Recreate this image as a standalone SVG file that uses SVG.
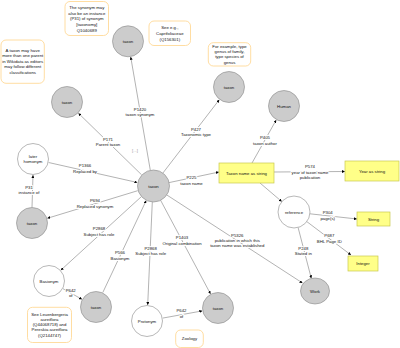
<svg xmlns="http://www.w3.org/2000/svg" width="400" height="348" viewBox="0 0 400 348">
<style>
text{font-family:"Liberation Sans",Arial,sans-serif;font-size:4.3px;fill:#111;text-anchor:middle}
.lbl{paint-order:stroke;stroke:#fff;stroke-width:2px;stroke-linejoin:round}
.g{fill:#cccccc;stroke:#888;stroke-width:0.6}
.w{fill:#fff;stroke:#888;stroke-width:0.6}
.y{fill:#ffff88;stroke:#c8c850;stroke-width:0.7}
.n{fill:#fff;stroke:#ffd48a;stroke-width:0.8}
.e{stroke:#666;stroke-width:0.5;fill:none;marker-end:url(#ah)}
.gr{fill:#999}
</style>
<defs>
<marker id="ah" viewBox="0 0 10 10" refX="10" refY="5" markerWidth="3" markerHeight="3" markerUnits="userSpaceOnUse" orient="auto">
<path d="M0,0 L10,5 L0,10 z" fill="#000"/>
</marker>
</defs>
<rect width="400" height="348" fill="#fff"/>
<g id="connectors">
<line class="e" x1="141.6" y1="174.8" x2="78.4" y2="113.2"/>
<line class="e" x1="150.3" y1="170.2" x2="130.7" y2="56.8"/>
<line class="e" x1="162.7" y1="173.3" x2="219.3" y2="99.7"/>
<line class="e" x1="48.6" y1="162.5" x2="137.4" y2="182.5"/>
<line class="e" x1="32" y1="207.5" x2="33" y2="175"/>
<line class="e" x1="137.7" y1="190.7" x2="47.3" y2="218.3"/>
<line class="e" x1="141.2" y1="196.8" x2="60.8" y2="270.2"/>
<line class="e" x1="102.8" y1="292.5" x2="146.2" y2="200.5"/>
<line class="e" x1="63" y1="288.7" x2="82" y2="299.3"/>
<line class="e" x1="152.3" y1="202" x2="147.7" y2="305"/>
<line class="e" x1="160.5" y1="200.1" x2="210.5" y2="293.9"/>
<line class="e" x1="162.7" y1="318.1" x2="202.3" y2="310.9"/>
<line class="e" x1="168.6" y1="182.7" x2="219" y2="172"/>
<line class="e" x1="166.4" y1="194.7" x2="302.5" y2="283"/>
<line class="e" x1="252" y1="163" x2="276.2" y2="120"/>
<line class="e" x1="274" y1="172" x2="345" y2="171.5"/>
<line class="e" x1="260" y1="183" x2="281.8" y2="201.6"/>
<line class="e" x1="309.9" y1="213.8" x2="357" y2="219"/>
<line class="e" x1="306.8" y1="221.6" x2="351" y2="255"/>
<line class="e" x1="298.1" y1="227.5" x2="311.3" y2="278.4"/>
<g class="labels">
<text class="lbl" x="108" y="141">P171<tspan x="108" y="146.3">Parent taxon</tspan></text>
<text class="lbl" x="140" y="110.5">P1420<tspan x="140" y="116.3">taxon synonym</tspan></text>
<text class="lbl" x="196" y="130.5">P427<tspan x="196" y="135.8">Taxonomic type</tspan></text>
<text class="lbl" x="85" y="167.2">P1366<tspan x="85" y="172.5">Replaced by</tspan></text>
<text class="lbl" x="29" y="189.2">P31<tspan x="29" y="194.4">instance of</tspan></text>
<text class="lbl" x="95" y="202.2">P694<tspan x="95" y="207.8">Replaced synonym</tspan></text>
<text class="lbl" x="99" y="230.2">P2868<tspan x="99" y="235.5">Subject has role</tspan></text>
<text class="lbl" x="120" y="253.8">P566<tspan x="120" y="259.5">Basionym</tspan></text>
<text class="lbl" x="70.7" y="291.8">P642<tspan x="70.7" y="297.3">of</tspan></text>
<text class="lbl" x="150.7" y="249.8">P2868<tspan x="150.7" y="255">Subject has role</tspan></text>
<text class="lbl" x="182" y="238.8">P1403<tspan x="182" y="244.8">Original combination</tspan></text>
<text class="lbl" x="181.5" y="312.3">P642<tspan x="181.5" y="317.8">of</tspan></text>
<text class="lbl" x="191.5" y="179.2">P225<tspan x="191.5" y="184.8">taxon name</tspan></text>
<text class="lbl" x="237.3" y="236.5">P5326<tspan x="237.3" y="241.5">publication in which this</tspan><tspan x="237.3" y="246.5">taxon name was established</tspan></text>
<text class="lbl" x="265" y="138.8">P405<tspan x="265" y="144.5">taxon author</tspan></text>
<text class="lbl" x="310" y="168.2">P574<tspan x="310" y="173.5">year of taxon name</tspan><tspan x="310" y="178.8">publication</tspan></text>
<text class="lbl" x="327.7" y="213.8">P304<tspan x="327.7" y="219.5">page(s)</tspan></text>
<text class="lbl" x="329.3" y="237.2">P687<tspan x="329.3" y="242.5">BHL Page ID</tspan></text>
<text class="lbl" x="303.3" y="249.8">P248<tspan x="303.3" y="254.8">Stated in</tspan></text>
<text class="gr" x="135" y="151.5">[...]</text>
</g>
</g>
<g id="note-synonym"><rect class="n" x="65" y="1.5" width="43.5" height="34" rx="5"/>
<text x="86.8" y="8.8">The synonym may<tspan x="86.8" y="14.6">also be an instance</tspan><tspan x="86.8" y="20.4">(P31) of synonym</tspan><tspan x="86.8" y="26.2">[taxonomy]</tspan><tspan x="86.8" y="32">Q1040689</tspan></text></g>
<g id="note-caprifoliaceae"><rect class="n" x="149" y="21" width="41.5" height="24.5" rx="5"/>
<text x="169.8" y="29">See e.g.,<tspan x="169.8" y="35">Caprifoliaceae</tspan><tspan x="169.8" y="41">(Q156301)</tspan></text></g>
<g id="note-parent"><rect class="n" x="1" y="40" width="43.3" height="43.3" rx="5"/>
<text x="22.7" y="51.5">A taxon may have<tspan x="22.7" y="57">more than one parent</tspan><tspan x="22.7" y="62.5">in Wikidata as editors</tspan><tspan x="22.7" y="68">may follow different</tspan><tspan x="22.7" y="73.5">classifications</tspan></text></g>
<g id="note-type"><rect class="n" x="208.3" y="42.7" width="42.4" height="23.3" rx="5"/>
<text x="229.5" y="48.2">For example, type<tspan x="229.5" y="53.3">genus of family,</tspan><tspan x="229.5" y="58.4">type species of</tspan><tspan x="229.5" y="63.5">genus</tspan></text></g>
<g id="note-leuenbergeria"><rect class="n" x="27.5" y="307.3" width="44" height="35.2" rx="5"/>
<text x="49.5" y="315.8">See Leuenbergeria<tspan x="49.5" y="321">aureiflora</tspan><tspan x="49.5" y="326.2">(Q44068718) and</tspan><tspan x="49.5" y="331.4">Pereskia aureiflora</tspan><tspan x="49.5" y="336.6">(Q2144747)</tspan></text></g>
<g id="note-zoology"><rect class="n" x="175.7" y="330" width="27.6" height="17.5" rx="5"/>
<text x="189.5" y="340.2">Zoology</text></g>
<g id="taxon-synonym"><circle class="g" cx="128" cy="41.3" r="15.5"/><text x="128" y="42.8">taxon</text></g>
<g id="taxon-parent"><circle class="g" cx="67" cy="102" r="15.5"/><text x="67" y="103.5">taxon</text></g>
<g id="taxon-type"><circle class="g" cx="229" cy="87" r="15.5"/><text x="229" y="88.5">taxon</text></g>
<g id="human"><circle class="g" cx="284" cy="106" r="15.5"/><text x="284" y="107.5">Human</text></g>
<g id="later-homonym"><circle class="w" cx="33" cy="159" r="15.5"/><text x="33" y="157.8">later<tspan x="33" y="163">homonym</tspan></text></g>
<g id="taxon-central"><circle class="g" cx="153.5" cy="186" r="16"/><text x="153.5" y="187.5">taxon</text></g>
<g id="taxon-replaced"><circle class="g" cx="32" cy="223" r="15.5"/><text x="32" y="224.5">taxon</text></g>
<g id="basionym"><circle class="w" cx="49" cy="281" r="15.5"/><text x="49" y="282.5">Basionym</text></g>
<g id="taxon-basionym"><circle class="g" cx="96" cy="307" r="15.5"/><text x="96" y="308.5">taxon</text></g>
<g id="protonym"><circle class="w" cx="147" cy="321" r="15.5"/><text x="147" y="322.5">Protonym</text></g>
<g id="taxon-original"><circle class="g" cx="218" cy="308" r="15.5"/><text x="218" y="309.5">taxon</text></g>
<g id="taxon-name-string"><rect class="y" x="219" y="163" width="55" height="20"/><text x="246.5" y="174.5">Taxon name as string</text></g>
<g id="year-string"><rect class="y" x="345" y="161" width="54" height="20"/><text x="372" y="172.5">Year as string</text></g>
<g id="reference"><circle class="w" cx="294" cy="212" r="16"/><text x="294" y="213.5">reference</text></g>
<g id="string"><rect class="y" x="357" y="212" width="33" height="14"/><text x="373.5" y="220.5">String</text></g>
<g id="integer"><rect class="y" x="348" y="256" width="30" height="15"/><text x="363" y="265">Integer</text></g>
<g id="work"><ellipse class="g" cx="315" cy="291" rx="14.5" ry="13"/><text x="315" y="292.5">Work</text></g>
</svg>
